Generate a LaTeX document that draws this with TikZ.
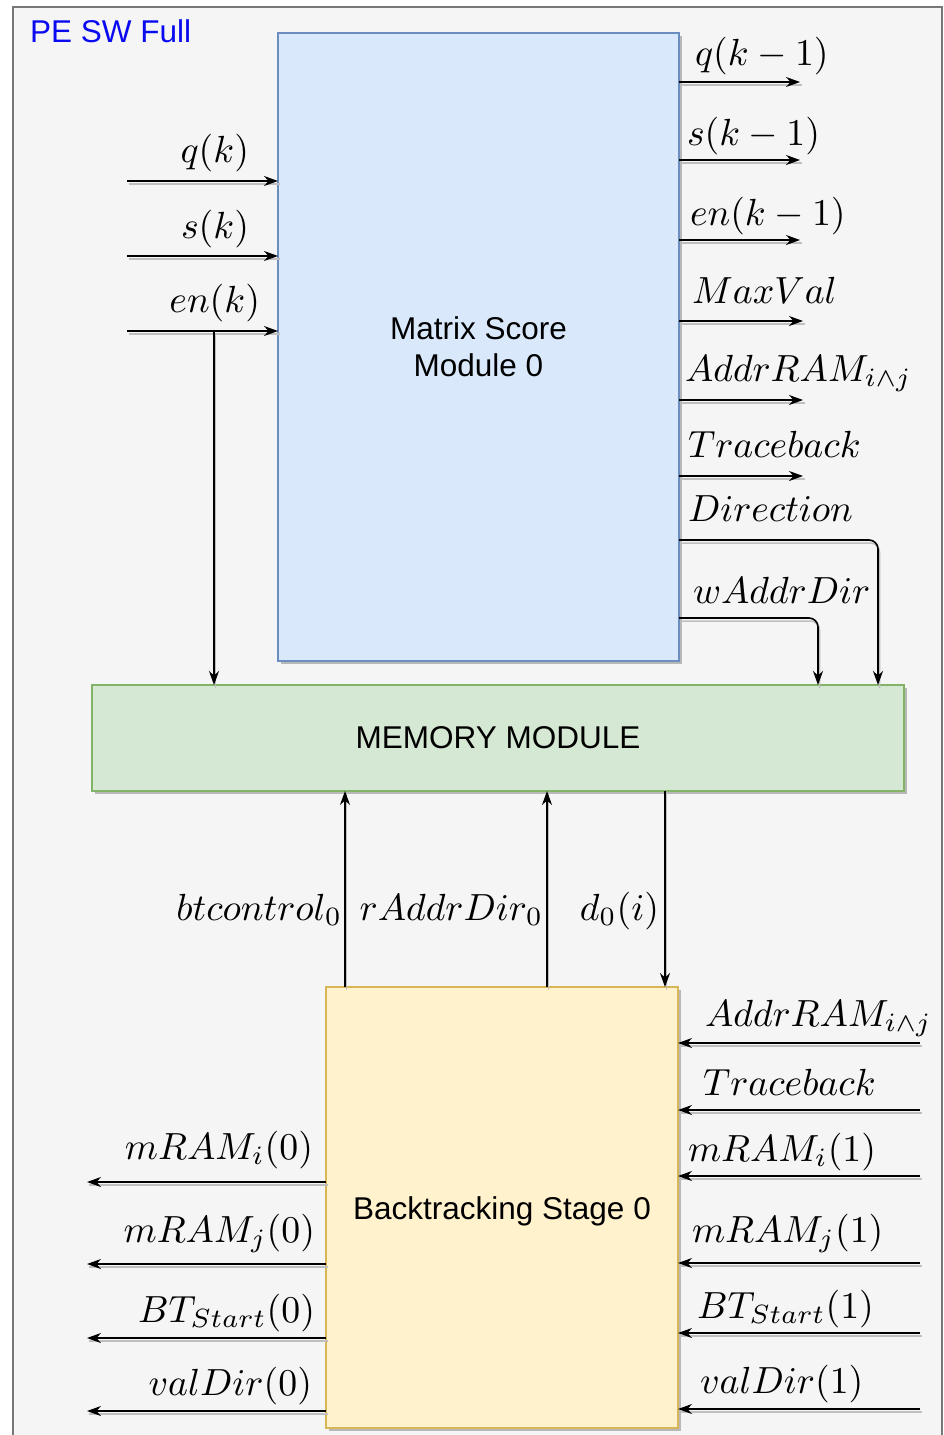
\RequirePackage{fix-cm}
\documentclass[tikz,border=0pt]{standalone}
\usepackage{graphicx}
\usepackage{fontspec}
\newfontfamily\helv{Liberation Sans}
\usetikzlibrary{arrows.meta,shadows}
\newcommand{\mlab}[1]{\scalebox{3.78}{$#1$}}
\definecolor{bgc}{HTML}{F5F5F5}
\definecolor{frc}{HTML}{777777}
\definecolor{bluef}{HTML}{DAE8FC}
\definecolor{blued}{HTML}{6C8EBF}
\definecolor{greenf}{HTML}{D5E8D4}
\definecolor{greend}{HTML}{82B366}
\definecolor{yellf}{HTML}{FFF2CC}
\definecolor{yelld}{HTML}{D6B656}
\definecolor{titc}{HTML}{0A0AF0}
\begin{document}
\begin{tikzpicture}[x=1pt,y=-1pt,
  box/.style={draw, line width=1.2pt, inner sep=0pt, outer sep=0pt, align=center,
    font=\helv\fontsize{31.5}{37}\selectfont,
    drop shadow={shadow xshift=3pt, shadow yshift=-3pt, fill=black!28, opacity=1}},
  sig/.style={line width=1.6pt, -{Stealth[length=14pt,width=10pt]},
    preaction={draw=black!25, line width=1.5pt, -, transform canvas={xshift=1.5pt,yshift=-3pt}}},
  lab/.style={font=\normalsize, inner sep=0pt, outer sep=0pt}
]
\useasboundingbox (0,0) rectangle (944,1435);
\draw[draw=frc, fill=bgc, line width=2pt] (13,7) rectangle (942,1450);
\node[anchor=base west, inner sep=0pt, text=titc, font=\helv\fontsize{31.5}{37}\selectfont] (title) at (30,42) {PE SW Full};

% boxes
\node[box, fill=bluef, draw=blued, minimum width=401pt, minimum height=628pt] (ms) at (478.5,347) {Matrix Score\\Module 0};
\node[box, fill=greenf, draw=greend, minimum width=812pt, minimum height=106pt] (mem) at (498,738) {MEMORY MODULE};
\node[box, fill=yellf, draw=yelld, minimum width=352pt, minimum height=441pt] (bt) at (502,1207.5) {\raisebox{-11.5pt}[0pt][0pt]{Backtracking Stage 0}};

% left inputs
\coordinate (qin) at (127,181);
\coordinate (sin) at (127,256);
\coordinate (ein) at (127,331);
\coordinate (eb) at (214,331);
\draw[sig] (qin) -- (qin -| ms.west);
\draw[sig] (sin) -- (sin -| ms.west);
\draw[sig] (ein) -- (ein -| ms.west);
\draw[sig] (eb) -- (eb |- mem.north);
\node[lab, anchor=base east] (lq) at (249,162) {\mlab{q(k)}};
\node[lab, anchor=base east] (ls) at (249,238) {\mlab{s(k)}};
\node[lab, anchor=base east] (le) at (260,312) {\mlab{en(k)}};

% right outputs of matrix score
\coordinate (o1) at (800,82);
\coordinate (o2) at (800,160);
\coordinate (o3) at (800,240);
\coordinate (o4) at (803,321);
\coordinate (o5) at (803,400);
\coordinate (o6) at (803,476);
\foreach \c in {o1,o2,o3,o4,o5,o6}{\draw[sig] (\c -| ms.east) -- (\c);}
\node[lab, anchor=base west] (l1) at (695,65) {\mlab{q(k-1)}};
\node[lab, anchor=base west] (l2) at (687,145) {\mlab{s(k-1)}};
\node[lab, anchor=base west] (l3) at (690,225) {\mlab{en(k-1)}};
\node[lab, anchor=base west] (l4) at (692,303) {\mlab{MaxVal}};
\node[lab, anchor=base west] (l5) at (685,381) {\mlab{AddrRAM_{i\wedge j}}};
\node[lab, anchor=base west] (l6) at (688,457) {\mlab{Traceback}};
\node[lab, anchor=base west] (l7) at (688,521) {\mlab{Direction}};
\node[lab, anchor=base west] (l8) at (693,603) {\mlab{wAddrDir}};
\coordinate (dc) at (878,540);
\coordinate (wc) at (818,618);
\draw[sig, rounded corners=9pt] (dc -| ms.east) -- (dc) -- (dc |- mem.north);
\draw[sig, rounded corners=9pt] (wc -| ms.east) -- (wc) -- (wc |- mem.north);

% between memory and backtracking
\coordinate (b1) at (345,900);
\coordinate (b2) at (547,900);
\coordinate (b3) at (665,900);
\draw[sig] (b1 |- bt.north) -- (b1 |- mem.south);
\draw[sig] (b2 |- bt.north) -- (b2 |- mem.south);
\draw[sig] (b3 |- mem.south) -- (b3 |- bt.north);
\node[lab, anchor=base east] (lb1) at (342,920) {\mlab{btcontrol_0}};
\node[lab, anchor=base east] (lb2) at (543,920) {\mlab{rAddrDir_0}};
\node[lab, anchor=base east] (lb3) at (659,920) {\mlab{d_0(i)}};

% right inputs of backtracking
\coordinate (r1) at (920,1043);
\coordinate (r2) at (920,1110);
\coordinate (r3) at (920,1176);
\coordinate (r4) at (920,1263);
\coordinate (r5) at (920,1333);
\coordinate (r6) at (920,1409);
\foreach \c in {r1,r2,r3,r4,r5,r6}{\draw[sig] (\c) -- (\c -| bt.east);}
\node[lab, anchor=base west] (lr1) at (705,1026) {\mlab{AddrRAM_{i\wedge j}}};
\node[lab, anchor=base west] (lr2) at (703,1095) {\mlab{Traceback}};
\node[lab, anchor=base west] (lr3) at (688,1161) {\mlab{mRAM_i(1)}};
\node[lab, anchor=base west] (lr4) at (692,1242) {\mlab{mRAM_j(1)}};
\node[lab, anchor=base west] (lr5) at (697,1318) {\mlab{BT_{Start}(1)}};
\node[lab, anchor=base west] (lr6) at (700,1393) {\mlab{valDir(1)}};

% left outputs of backtracking
\coordinate (x1) at (87,1182);
\coordinate (x2) at (87,1264);
\coordinate (x3) at (87,1338);
\coordinate (x4) at (87,1411);
\foreach \c in {x1,x2,x3,x4}{\draw[sig] (\c -| bt.west) -- (\c);}
\node[lab, anchor=base east] (lx1) at (313,1159) {\mlab{mRAM_i(0)}};
\node[lab, anchor=base east] (lx2) at (315,1242) {\mlab{mRAM_j(0)}};
\node[lab, anchor=base east] (lx3) at (315,1322) {\mlab{BT_{Start}(0)}};
\node[lab, anchor=base east] (lx4) at (312,1395) {\mlab{valDir(0)}};
\end{tikzpicture}
\end{document}
